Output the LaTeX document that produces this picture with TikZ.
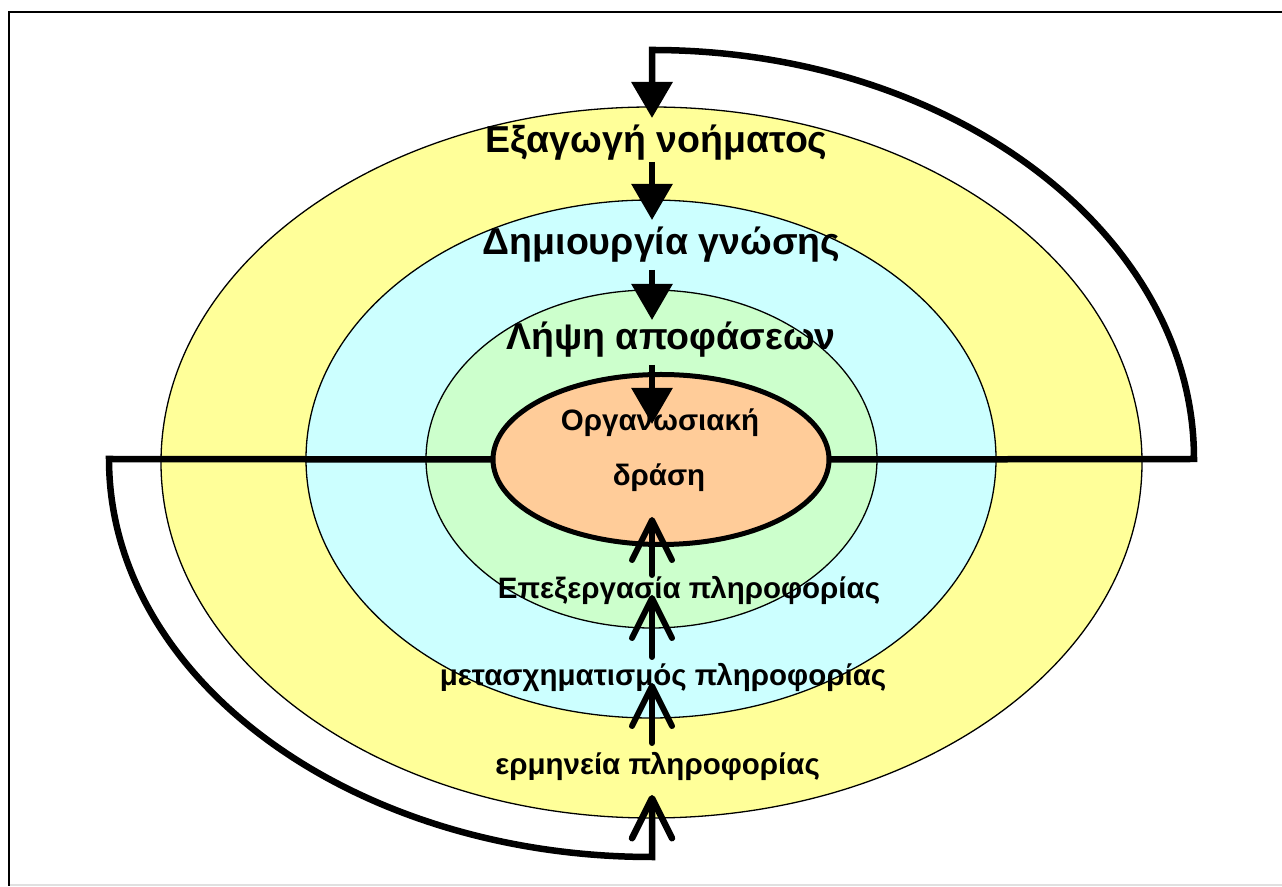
\documentclass[tikz,border=0pt]{standalone}
\usepackage{fontspec}
\setmainfont{Liberation Sans}
\usetikzlibrary{arrows.meta,shapes.geometric}

\definecolor{meaningfill}{HTML}{FFFF99}
\definecolor{knowledgefill}{HTML}{CCFFFF}
\definecolor{decisionfill}{HTML}{CCFFCC}
\definecolor{actionfill}{HTML}{FFCC99}

\begin{document}
\begin{tikzpicture}[x=1pt,y=1pt,
  ring/.style={ellipse, draw=black, line width=1.3pt, inner sep=0pt, outer sep=0pt},
  bigtext/.style={font=\bfseries\fontsize{37.5}{40}\selectfont, inner sep=0pt},
  smalltext/.style={font=\bfseries\fontsize{29.5}{32}\selectfont, inner sep=0pt},
  downflow/.style={line width=6pt, -{Triangle[length=36pt,width=40pt]}},
  upflow/.style={line width=6pt, line cap=round,
    -{Straight Barb[length=40pt,width=40pt,line cap=round,line join=round]}},
  feedback/.style={line width=6.5pt, line join=miter}]

\path[use as bounding box] (0,0) rectangle (1282,886);

% frame
\draw[black!12, line width=1.5pt] (9,1) -- (1282,1);
\draw[line width=2pt] (1282,874) -- (9,874) -- (9,0);

% nested layers
\node[ring, fill=meaningfill, minimum width=981pt, minimum height=711pt] (meaning) at (651.5,423.5) {};
\node[ring, fill=knowledgefill, minimum width=690pt, minimum height=518pt] (knowledge) at (651,427) {};
\node[ring, fill=decisionfill, minimum width=451pt, minimum height=338pt] (decision) at (651.5,427) {};
\node[ring, fill=actionfill, line width=5pt, minimum width=336pt, minimum height=170pt] (core) at (661,426.5) {};

% loop ends and arrow end points
\coordinate (lend) at (109,427);
\coordinate (rend) at (1194,427);

\coordinate (d1tip) at (652,768);
\coordinate (d2tail) at (652,724);
\coordinate (d2tip) at (652,666);
\coordinate (d3tail) at (652,616);
\coordinate (d3tip) at (652,566);
\coordinate (d4tail) at (652,521);
\coordinate (d4tip) at (652,462);

\coordinate (u1tail) at (652,311);
\coordinate (u1tip) at (652,369);
\coordinate (u2tail) at (652,229);
\coordinate (u2tip) at (652,291);
\coordinate (u3tail) at (652,143);
\coordinate (u3tip) at (652,203);
\coordinate (u4tip) at (652,91);

% feedback loops
\draw[feedback, -{Triangle[length=36pt,width=40pt]}] (core.east) -- (rend)
  arc[start angle=0, end angle=90, x radius=542, y radius=409] -- (d1tip);
\draw[feedback, -{Straight Barb[length=40pt,width=40pt,line cap=round,line join=round]}] (core.west) -- (lend)
  arc[start angle=180, end angle=270, x radius=543, y radius=398] -- (u4tip);

% inward flow
\draw[downflow] (d2tail) -- (d2tip);
\draw[downflow] (d3tail) -- (d3tip);
\draw[downflow] (d4tail) -- (d4tip);

% outward flow
\draw[upflow] (u1tail) -- (u1tip);
\draw[upflow] (u2tail) -- (u2tip);
\draw[upflow] (u3tail) -- (u3tip);

% labels
\node[bigtext] (t1) at (656.5,743) {Εξαγωγή νοήματος};
\node[bigtext] (t2) at (661.5,641) {Δημιουργία γνώσης};
\node[bigtext] (t3) at (671,546) {Λήψη αποφάσεων};
\node[smalltext] (t4) at (660,463) {Οργανωσιακή};
\node[smalltext] (t5) at (659,408) {δράση};
\node[smalltext] (t6) at (689,296) {Επεξεργασία πληροφορίας};
\node[smalltext] (t7) at (663,209) {μετασχηματισμός πληροφορίας};
\node[smalltext] (t8) at (657.5,120) {ερμηνεία πληροφορίας};
\end{tikzpicture}
\end{document}
